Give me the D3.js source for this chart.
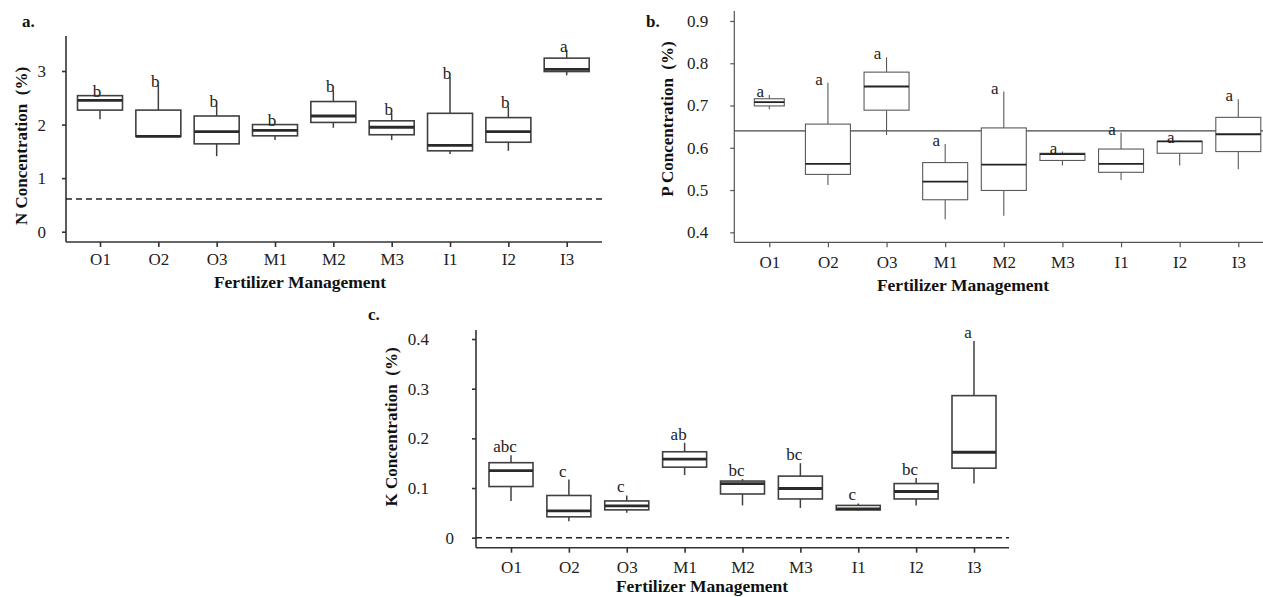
<!DOCTYPE html>
<html>
<head>
<meta charset="utf-8">
<script src="https://cdn.jsdelivr.net/npm/d3@7"></script>
<style>
html,body{margin:0;padding:0;background:#fff;}
svg{display:block;}
</style>
</head>
<body>
<svg id="chart" width="1263" height="597"></svg>
<script>
// ---------- DATA ----------
const categories = ["O1","O2","O3","M1","M2","M3","I1","I2","I3"];

// Panel a: N concentration (%)
const nLow  = [2.10, 1.77, 1.41, 1.71, 1.94, 1.71, 1.45, 1.51, 2.92];
const nQ1   = [2.27, 1.78, 1.64, 1.79, 2.04, 1.81, 1.51, 1.67, 2.99];
const nMed  = [2.45, 1.78, 1.87, 1.89, 2.16, 1.95, 1.61, 1.87, 3.03];
const nQ3   = [2.54, 2.27, 2.16, 2.00, 2.43, 2.07, 2.21, 2.13, 3.24];
const nHigh = [2.55, 2.74, 2.37, 2.01, 2.64, 2.21, 2.89, 2.34, 3.40];
const nLetters = ["b","b","b","b","b","b","b","b","a"];
const nTicks = [0, 1, 2, 3];
const nThreshold = 0.61;

// Panel b: P concentration (%)
const pLow  = [0.691, 0.512, 0.630, 0.431, 0.439, 0.558, 0.524, 0.558, 0.549];
const pQ1   = [0.699, 0.537, 0.689, 0.477, 0.499, 0.570, 0.542, 0.587, 0.591];
const pMed  = [0.708, 0.562, 0.745, 0.520, 0.560, 0.585, 0.562, 0.615, 0.632];
const pQ3   = [0.716, 0.656, 0.779, 0.565, 0.647, 0.587, 0.597, 0.615, 0.672];
const pHigh = [0.725, 0.754, 0.814, 0.609, 0.733, 0.591, 0.636, 0.617, 0.715];
const pLetters = ["a","a","a","a","a","a","a","a","a"];
const pTicks = [0.4, 0.5, 0.6, 0.7, 0.8, 0.9];
const pThreshold = 0.64;

// Panel c: K concentration (%)
const kLow  = [0.074, 0.033, 0.050, 0.126, 0.065, 0.060, 0.055, 0.065, 0.109];
const kQ1   = [0.103, 0.042, 0.056, 0.142, 0.088, 0.078, 0.056, 0.078, 0.140];
const kMed  = [0.135, 0.054, 0.064, 0.158, 0.109, 0.099, 0.058, 0.093, 0.172];
const kQ3   = [0.151, 0.085, 0.074, 0.173, 0.114, 0.124, 0.065, 0.109, 0.286];
const kHigh = [0.166, 0.117, 0.085, 0.191, 0.118, 0.150, 0.069, 0.120, 0.396];
const kLetters = ["abc","c","c","ab","bc","bc","c","bc","a"];
const kTicks = [0, 0.1, 0.2, 0.3, 0.4];
const kThreshold = 0;

// ---------- DRAWING ----------
const FONT = "'Liberation Serif','Times New Roman',serif";
const svg = d3.select("#chart");

function stats(lo, q1, md, q3, hi, letters) {
  return categories.map((c, i) => ({cat: c, lo: lo[i], q1: q1[i], med: md[i], q3: q3[i], hi: hi[i], letter: letters[i]}));
}

function drawPanel(cfg) {
  const g = svg.append("g");
  const x = d3.scalePoint().domain(categories).range(cfg.xRange);
  const y = d3.scaleLinear().domain(cfg.yDomain).range(cfg.yRange);

  // y axis
  const ya = g.append("g").attr("transform", `translate(${cfg.axisX},0)`)
    .call(d3.axisLeft(y).tickValues(cfg.ticks).tickSize(4).tickPadding(cfg.yPad)
      .tickFormat(cfg.fmt));
  ya.select(".domain").remove();
  ya.selectAll(".tick line").attr("stroke", cfg.axisColor).attr("stroke-width", cfg.axisW);
  ya.selectAll(".tick text").attr("font-family", FONT).attr("font-size", 17).attr("fill", "#222");
  if (cfg.zeroLabelShift) {
    ya.selectAll(".tick text").filter(d => d === 0).attr("x", -4 - cfg.yPad + cfg.zeroLabelShift);
  }
  g.append("line").attr("x1", cfg.axisX).attr("x2", cfg.axisX)
    .attr("y1", cfg.yTop).attr("y2", cfg.xAxisY)
    .attr("stroke", cfg.axisColor).attr("stroke-width", cfg.axisW);

  // x axis
  const xa = g.append("g").attr("transform", `translate(0,${cfg.xAxisY})`)
    .call(d3.axisBottom(x).tickSize(5).tickPadding(6));
  xa.select(".domain").remove();
  xa.selectAll(".tick line").attr("stroke", cfg.axisColor).attr("stroke-width", cfg.axisW);
  xa.selectAll(".tick text").attr("font-family", FONT).attr("font-size", 17).attr("fill", "#222")
    .attr("dy", null).attr("y", cfg.xLabelDy);
  g.append("line").attr("x1", cfg.axisX).attr("x2", cfg.xRight)
    .attr("y1", cfg.xAxisY).attr("y2", cfg.xAxisY)
    .attr("stroke", cfg.axisColor).attr("stroke-width", cfg.axisW);

  // threshold line
  g.append("line").attr("x1", cfg.axisX).attr("x2", cfg.xRight)
    .attr("y1", y(cfg.threshold)).attr("y2", y(cfg.threshold))
    .attr("stroke", cfg.threshColor).attr("stroke-width", cfg.threshW)
    .attr("stroke-dasharray", cfg.dash || null);

  // boxes
  const bw = d => (cfg.boxW[d.cat] || cfg.boxWidth);
  const boxes = g.append("g").selectAll("g").data(cfg.data).join("g");
  boxes.append("line")
    .attr("x1", d => x(d.cat)).attr("x2", d => x(d.cat))
    .attr("y1", d => y(d.hi)).attr("y2", d => y(d.q3))
    .attr("stroke", cfg.boxColor).attr("stroke-width", cfg.whiskW);
  boxes.append("line")
    .attr("x1", d => x(d.cat)).attr("x2", d => x(d.cat))
    .attr("y1", d => y(d.q1)).attr("y2", d => y(d.lo))
    .attr("stroke", cfg.boxColor).attr("stroke-width", cfg.whiskW);
  boxes.append("rect")
    .attr("x", d => x(d.cat) - bw(d) / 2).attr("width", d => bw(d))
    .attr("y", d => y(d.q3)).attr("height", d => y(d.q1) - y(d.q3))
    .attr("fill", "#fff").attr("stroke", cfg.boxColor).attr("stroke-width", cfg.boxStrokeW);
  boxes.append("line")
    .attr("x1", d => x(d.cat) - bw(d) / 2).attr("x2", d => x(d.cat) + bw(d) / 2)
    .attr("y1", d => y(d.med)).attr("y2", d => y(d.med))
    .attr("stroke", cfg.medColor).attr("stroke-width", cfg.medW);
  boxes.append("text")
    .attr("x", d => x(d.cat) + cfg.letterDx)
    .attr("y", d => y(d.hi) + cfg.letterDy)
    .attr("text-anchor", "middle")
    .attr("font-family", FONT).attr("font-size", 17).attr("fill", "#222")
    .text(d => d.letter);

  // titles
  g.append("text").attr("x", cfg.xTitle[0]).attr("y", cfg.xTitle[1])
    .attr("text-anchor", "middle").attr("font-family", FONT).attr("font-weight", "bold")
    .attr("font-size", 17.5).attr("fill", "#111").text("Fertilizer Management");
  g.append("text")
    .attr("transform", `translate(${cfg.yTitle[0]},${cfg.yTitle[1]}) rotate(-90)`)
    .attr("text-anchor", "middle").attr("font-family", FONT).attr("font-weight", "bold")
    .attr("font-size", 17).attr("fill", "#111").attr("xml:space", "preserve")
    .text(cfg.yTitleText);
  g.append("text").attr("x", cfg.panelLabel[0]).attr("y", cfg.panelLabel[1])
    .attr("font-family", FONT).attr("font-weight", "bold")
    .attr("font-size", 17).attr("fill", "#111").text(cfg.panelText);
}

const fmt1 = d => d3.format(".1f")(d);

drawPanel({
  data: stats(nLow, nQ1, nMed, nQ3, nHigh, nLetters),
  xRange: [100, 566.7], yDomain: [0, 3], yRange: [231.7, 71],
  ticks: nTicks, fmt: d => d3.format("d")(d), yPad: 16,
  axisX: 66, yTop: 36, xAxisY: 242, xRight: 602, xLabelDy: 23,
  threshold: nThreshold, dash: "6,4", threshColor: "#222", threshW: 1.5,
  axisColor: "#333", axisW: 1.6,
  boxColor: "#404040", boxStrokeW: 1.6, whiskW: 1.5, medColor: "#2a2a2a", medW: 2.8,
  boxWidth: 45, boxW: {},
  letterDx: -3, letterDy: 2,
  xTitle: [300, 288], yTitle: [27, 146], yTitleText: "N Concentration  (%)",
  panelLabel: [22, 27], panelText: "a."
});

drawPanel({
  data: stats(pLow, pQ1, pMed, pQ3, pHigh, pLetters),
  xRange: [769.3, 1238.3], yDomain: [0.4, 0.9], yRange: [232.3, 21],
  ticks: pTicks, fmt: fmt1, yPad: 22,
  axisX: 734.3, yTop: 11, xAxisY: 242.3, xRight: 1263, xLabelDy: 26,
  threshold: pThreshold, dash: null, threshColor: "#444", threshW: 1.2,
  axisColor: "#555", axisW: 1.2,
  boxColor: "#5a5a5a", boxStrokeW: 1.1, whiskW: 1.1, medColor: "#222", medW: 1.8,
  boxWidth: 45, boxW: {O1: 30},
  letterDx: -9, letterDy: 2,
  xTitle: [963, 291], yTitle: [673, 119], yTitleText: "P Concentration  (%)",
  panelLabel: [646, 27], panelText: "b."
});

drawPanel({
  data: stats(kLow, kQ1, kMed, kQ3, kHigh, kLetters),
  xRange: [511, 974], yDomain: [0, 0.4], yRange: [537.7, 339],
  ticks: kTicks, fmt: d => d === 0 ? "0" : fmt1(d), yPad: 43, zeroLabelShift: 25,
  axisX: 476, yTop: 330, xAxisY: 547.7, xRight: 1009, xLabelDy: 25,
  threshold: kThreshold, dash: "6,4", threshColor: "#222", threshW: 1.5,
  axisColor: "#333", axisW: 1.6,
  boxColor: "#404040", boxStrokeW: 1.6, whiskW: 1.5, medColor: "#2a2a2a", medW: 2.8,
  boxWidth: 44, boxW: {},
  letterDx: -6, letterDy: -3,
  xTitle: [702, 592], yTitle: [397, 427], yTitleText: "K Concentration  (%)",
  panelLabel: [368, 320], panelText: "c."
});
</script>
</body>
</html>
